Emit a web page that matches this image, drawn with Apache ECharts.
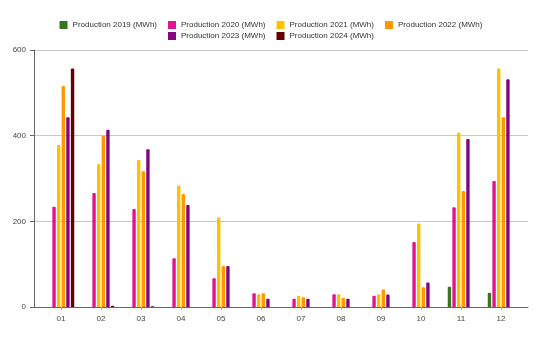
<!DOCTYPE html>
<html>
<head>
<meta charset="utf-8">
<script src="https://cdn.jsdelivr.net/npm/echarts@6/dist/echarts.min.js"></script>
<style>
  html, body { margin: 0; padding: 0; background: #fff; }
  #chart { width: 542px; height: 340px; }
</style>
</head>
<body>
<div id="chart"></div>
<script>
// Monthly production, one array per year (null = no data for that month)
const months = ['01', '02', '03', '04', '05', '06', '07', '08', '09', '10', '11', '12'];
const prod2019 = [null, null, null, null, null, null, null, null, null, null, 47, 33];
const prod2020 = [234, 266, 229, 114, 67, 32, 19, 30, 26, 152, 233, 294];
const prod2021 = [378, 334, 343, 283, 209, 30, 26, 30, 30, 195, 407, 557];
const prod2022 = [516, 400, 317, 264, 96, 32, 23, 21, 41, 46, 271, 443];
const prod2023 = [443, 414, 368, 238, 96, 19, 19, 19, 29, 57, 392, 532];
const prod2024 = [557, 3, 2, null, null, null, null, null, null, null, null, null];
const yTicks = [0, 200, 400, 600];

const seriesDefs = [
  { name: 'Production 2019 (MWh)', values: prod2019, color: '#38761d' },
  { name: 'Production 2020 (MWh)', values: prod2020, color: '#e0148f' },
  { name: 'Production 2021 (MWh)', values: prod2021, color: '#ffc000' },
  { name: 'Production 2022 (MWh)', values: prod2022, color: '#ff9800' },
  { name: 'Production 2023 (MWh)', values: prod2023, color: '#83067f' },
  { name: 'Production 2024 (MWh)', values: prod2024, color: '#650000' }
];

// month n sits at x = n on a value axis
const monthPos = months.map((m, i) => i + 1);

const font = 'Liberation Sans, Arial, sans-serif';
const textColor = '#444';

const chart = echarts.init(document.getElementById('chart'), null, { renderer: 'canvas' });

const legendCommon = {
  left: 'center',
  itemWidth: 8,
  itemHeight: 8,
  itemGap: 11,
  icon: 'rect',
  textStyle: { fontFamily: font, fontSize: 8, color: '#333' }
};

chart.setOption({
  animation: false,
  legend: [
    Object.assign({ top: 16, data: seriesDefs.slice(0, 4).map(s => s.name) }, legendCommon),
    Object.assign({ top: 27, data: seriesDefs.slice(4).map(s => s.name) }, legendCommon)
  ],
  grid: { left: 34, right: 14, top: 50, bottom: 33, containLabel: false },
  xAxis: {
    type: 'value',
    min: 0.325,
    max: 12.675,
    splitLine: { show: false },
    axisLine: { show: true, lineStyle: { color: '#666', width: 1 } },
    axisTick: { show: true, customValues: monthPos, length: 3, lineStyle: { color: '#aaa' } },
    axisLabel: {
      customValues: monthPos,
      formatter: v => months[Math.round(v) - 1] || '',
      fontFamily: font, fontSize: 8, color: textColor, margin: 8
    }
  },
  yAxis: {
    type: 'value',
    min: 0,
    max: yTicks[yTicks.length - 1],
    interval: yTicks[1] - yTicks[0],
    axisLine: { show: true, lineStyle: { color: '#666', width: 1 } },
    axisTick: { show: true, length: 4, lineStyle: { color: '#666' } },
    splitLine: { show: true, lineStyle: { color: '#c8c8c8', width: 1 } },
    axisLabel: { fontFamily: font, fontSize: 8, color: textColor, margin: 8 }
  },
  series: seriesDefs.map(s => ({
    type: 'bar',
    name: s.name,
    barWidth: 3.4,
    barGap: '36%',
    itemStyle: { color: s.color, borderRadius: [1, 1, 0, 0] },
    data: s.values.map((v, i) => [monthPos[i], v])
  }))
});
</script>
</body>
</html>
